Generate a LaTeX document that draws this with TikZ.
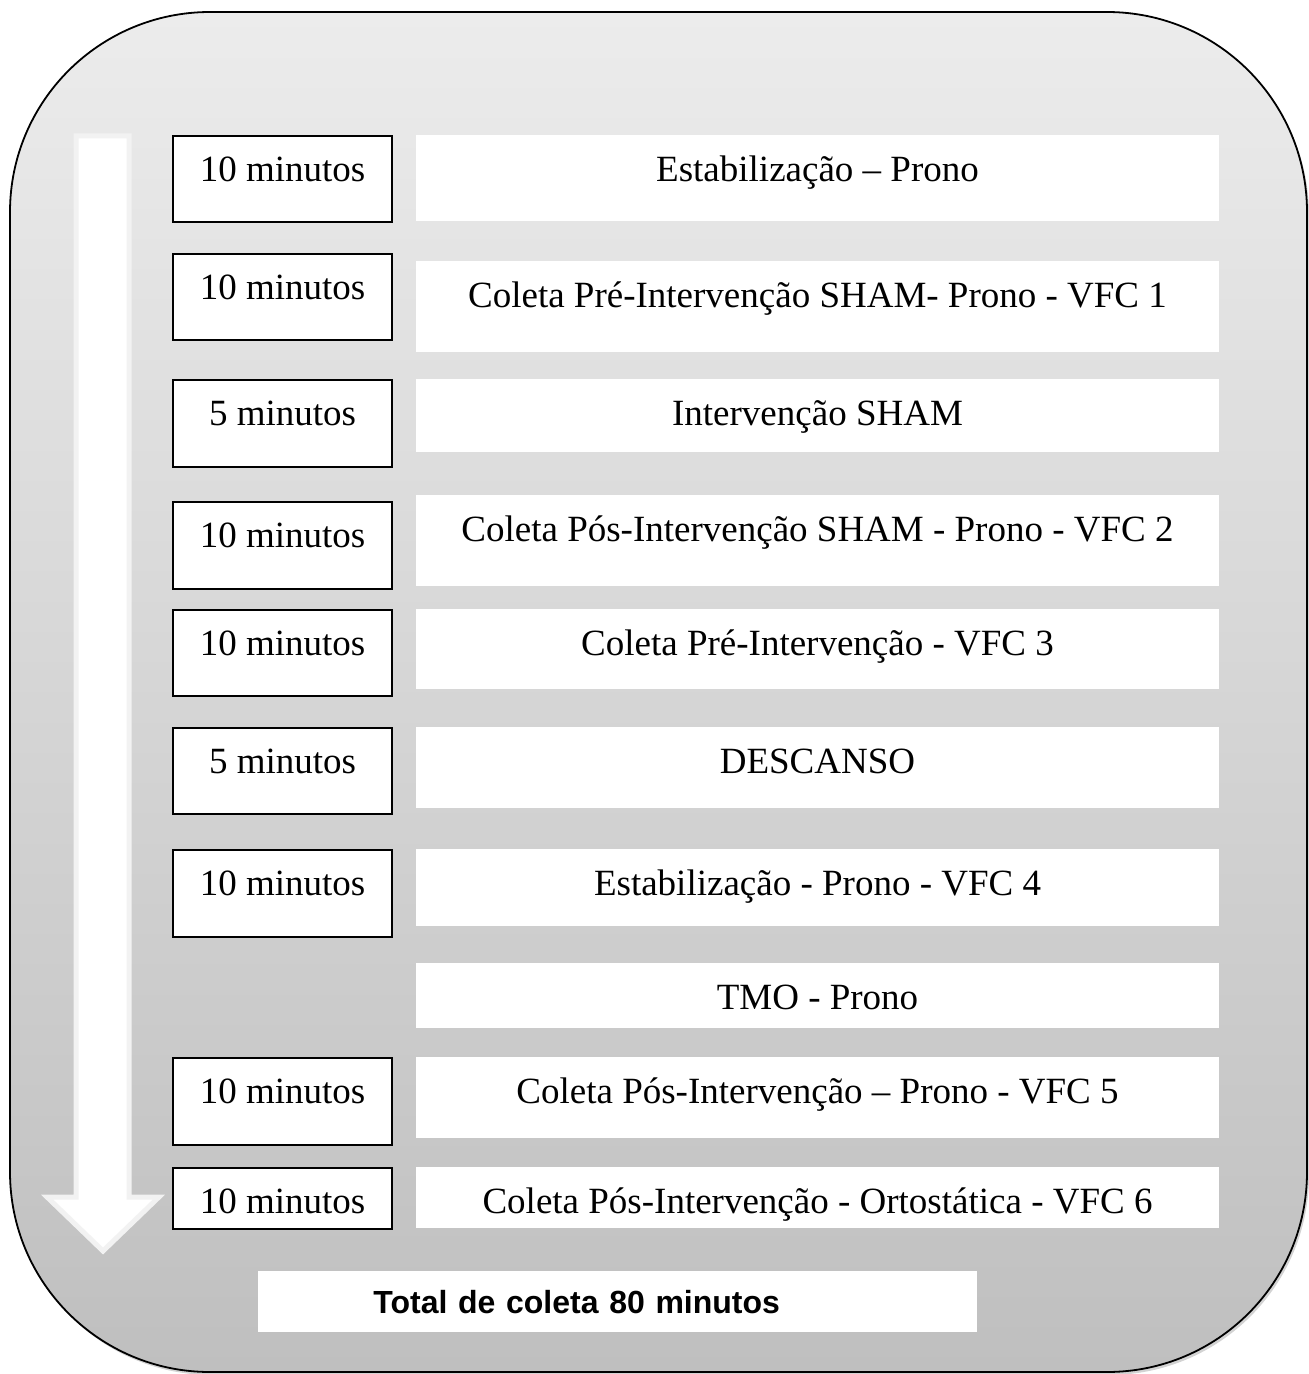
\documentclass[tikz,border=0pt]{standalone}
\usepackage{fontspec}
\setmainfont{Liberation Serif}
\newfontfamily\totalfont{Liberation Sans}
\usetikzlibrary{shadows}
\definecolor{frametop}{RGB}{236,236,236}
\definecolor{framebottom}{RGB}{191,191,191}
\definecolor{arrowedge}{RGB}{242,242,242}
\begin{document}
\begin{tikzpicture}[x=0.5pt, y=-0.5pt,
  time/.style={draw, line width=0.8pt, fill=white, anchor=north, minimum width=109.5pt, inner xsep=0pt, inner ysep=0pt, text height=23pt, font=\fontsize{18.5pt}{22pt}\selectfont},
  stage/.style={fill=white, anchor=north, minimum width=401.5pt, inner xsep=0pt, inner ysep=0pt, text height=23pt, font=\fontsize{18.5pt}{22pt}\selectfont}]
\useasboundingbox (0,0) rectangle (1308,1374);
% moldura
\draw[line width=0.9pt, rounded corners=100pt, top color=frametop, bottom color=framebottom, drop shadow={shadow xshift=1pt, shadow yshift=-1.5pt, opacity=0.35}] (10,12) rectangle (1307,1372);
% seta do tempo
\draw[draw=arrowedge, fill=white, line width=2.5pt, line join=miter] (76,136) -- (129,136) -- (129,1197) -- (159,1197) -- (103,1251) -- (47,1197) -- (76,1197) -- cycle;
% etapas
\node[time, text depth=20pt] (d1) at (282.5,135) {10 minutos};
\node[stage, text depth=20pt] (s1) at (817.5,135) {Estabilização – Prono};
\node[time, text depth=20pt] (d2) at (282.5,253) {10 minutos};
\node[stage, text depth=22.5pt] (s2) at (817.5,261) {Coleta Pré-Intervenção SHAM- Prono - VFC 1};
\node[time, text depth=20.5pt] (d3) at (282.5,379) {5 minutos};
\node[stage, text depth=13.5pt] (s3) at (817.5,379) {Intervenção SHAM};
\node[time, text depth=20.5pt] (d4) at (282.5,501) {10 minutos};
\node[stage, text depth=22.5pt] (s4) at (817.5,495) {Coleta Pós-Intervenção SHAM - Prono - VFC 2};
\node[time, text depth=20pt] (d5) at (282.5,609) {10 minutos};
\node[stage, text depth=17pt] (s5) at (817.5,609) {Coleta Pré-Intervenção - VFC 3};
\node[time, text depth=20pt] (d6) at (282.5,727) {5 minutos};
\node[stage, text depth=17.5pt] (s6) at (817.5,727) {DESCANSO};
\node[time, text depth=20.5pt] (d7) at (282.5,849) {10 minutos};
\node[stage, text depth=15.5pt] (s7) at (817.5,849) {Estabilização - Prono - VFC 4};
\node[stage, text depth=9.5pt] (s8) at (817.5,963) {TMO - Prono};
\node[time, text depth=20.5pt] (d9) at (282.5,1057) {10 minutos};
\node[stage, text depth=17.5pt] (s9) at (817.5,1057) {Coleta Pós-Intervenção – Prono - VFC 5};
\node[time, text depth=7.5pt] (d10) at (282.5,1167) {10 minutos};
\node[stage, text depth=7.5pt] (s10) at (817.5,1167) {Coleta Pós-Intervenção - Ortostática - VFC 6};
% total
\node[fill=white, anchor=north west, inner sep=0pt, text width=359.5pt, align=left, text height=21.25pt, text depth=9.25pt, font=\totalfont\bfseries\fontsize{16pt}{19pt}\selectfont] (total) at (258,1271) {\hspace*{57.5pt}Total de coleta 80 minutos};
\end{tikzpicture}
\end{document}
